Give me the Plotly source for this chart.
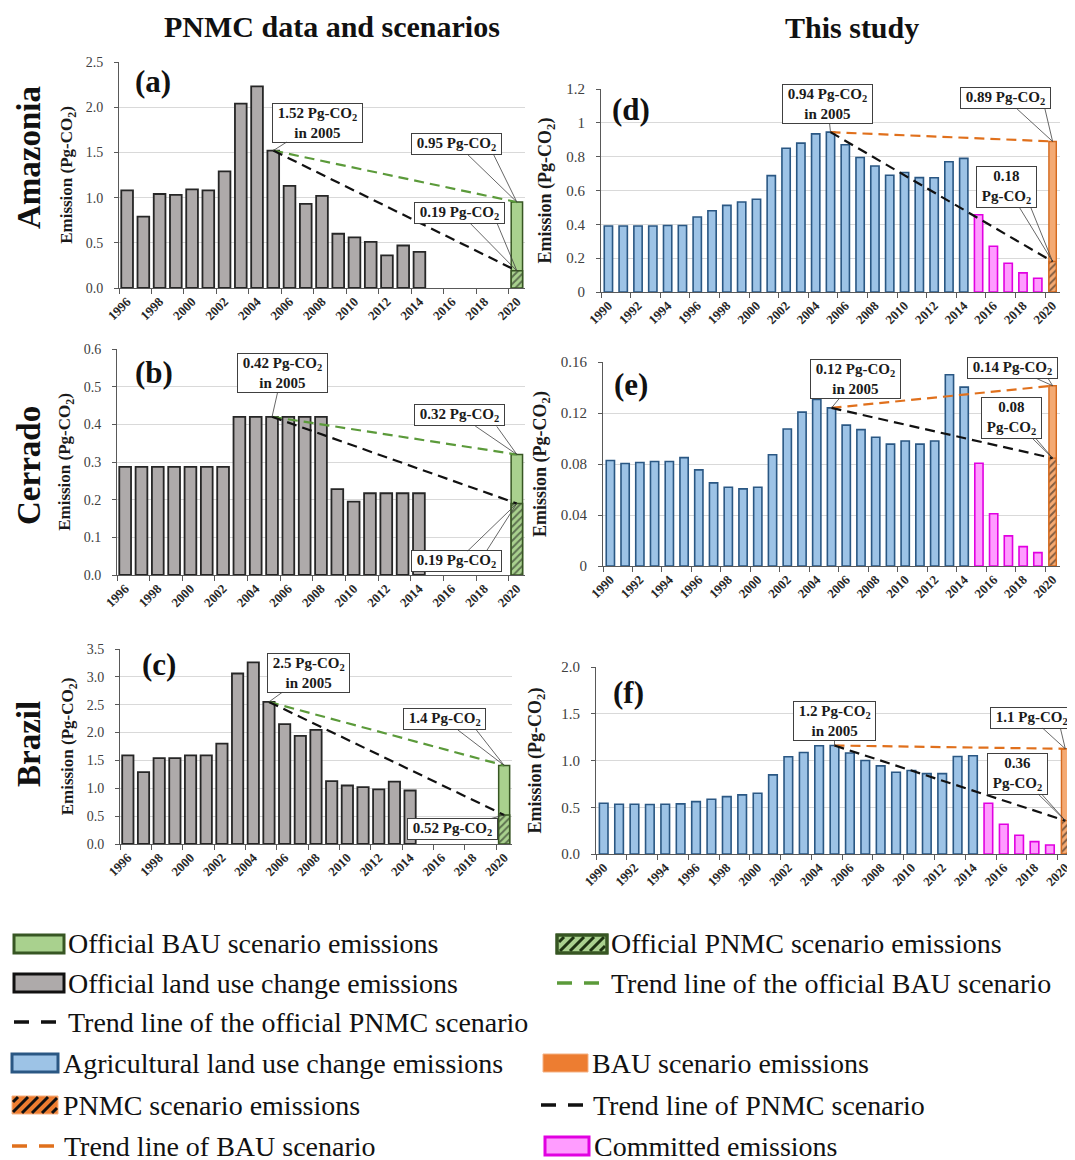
import plotly.graph_objects as go

# ---------------- data ----------------
YEARS_OFFICIAL = [1996, 1997, 1998, 1999, 2000, 2001, 2002, 2003, 2004, 2005,
                  2006, 2007, 2008, 2009, 2010, 2011, 2012, 2013, 2014]
AMAZONIA_OFFICIAL = [1.08, 0.79, 1.04, 1.03, 1.09, 1.08, 1.29, 2.04, 2.23, 1.52,
                     1.13, 0.93, 1.02, 0.60, 0.56, 0.51, 0.36, 0.47, 0.40]
CERRADO_OFFICIAL = [0.287, 0.287, 0.287, 0.287, 0.287, 0.287, 0.287, 0.42, 0.42, 0.42,
                    0.42, 0.42, 0.42, 0.228, 0.195, 0.217, 0.217, 0.217, 0.217]
BRAZIL_OFFICIAL = [1.59, 1.29, 1.54, 1.54, 1.59, 1.59, 1.80, 3.06, 3.26, 2.55,
                   2.15, 1.94, 2.05, 1.13, 1.05, 1.02, 0.98, 1.12, 0.96]
OFFICIAL_BAU_2020 = [0.95, 0.32, 1.41]      # Amazonia, Cerrado, Brazil
OFFICIAL_PNMC_2020 = [0.19, 0.19, 0.52]

YEARS_STUDY = [1990, 1991, 1992, 1993, 1994, 1995, 1996, 1997, 1998, 1999, 2000, 2001, 2002,
               2003, 2004, 2005, 2006, 2007, 2008, 2009, 2010, 2011, 2012, 2013, 2014]
AMAZONIA_STUDY = [0.39, 0.39, 0.39, 0.39, 0.393, 0.393, 0.443, 0.48, 0.512, 0.532, 0.548, 0.688, 0.85,
                  0.88, 0.935, 0.945, 0.87, 0.795, 0.745, 0.69, 0.706, 0.676, 0.675, 0.77, 0.79]
CERRADO_STUDY = [0.0827, 0.0804, 0.0812, 0.082, 0.082, 0.085, 0.0754, 0.0652, 0.0618, 0.0605, 0.0618,
                 0.0872, 0.1074, 0.1207, 0.1307, 0.124, 0.1105, 0.107, 0.101, 0.0956, 0.098, 0.0956,
                 0.098, 0.150, 0.1403]
BRAZIL_STUDY = [0.543, 0.532, 0.532, 0.529, 0.532, 0.536, 0.56, 0.586, 0.614, 0.632, 0.65, 0.846, 1.04,
                1.086, 1.157, 1.16, 1.08, 1.0, 0.943, 0.875, 0.893, 0.86, 0.86, 1.043, 1.05]
YEARS_COMMITTED = [2015, 2016, 2017, 2018, 2019]
AMAZONIA_COMMITTED = [0.457, 0.27, 0.17, 0.113, 0.081]
CERRADO_COMMITTED = [0.0806, 0.041, 0.0236, 0.0152, 0.0105]
BRAZIL_COMMITTED = [0.543, 0.318, 0.2, 0.132, 0.096]
STUDY_BAU_2020 = [0.89, 0.1414, 1.125]
STUDY_PNMC_2020 = [0.18, 0.0846, 0.357]

BASE_YEAR = 2005
TARGET_YEAR = 2020
TICKS_OFFICIAL = [1996, 1998, 2000, 2002, 2004, 2006, 2008, 2010, 2012, 2014, 2016, 2018, 2020]
TICKS_STUDY = [1990, 1992, 1994, 1996, 1998, 2000, 2002, 2004, 2006, 2008, 2010, 2012, 2014,
               2016, 2018, 2020]

REGIONS = ["Amazonia", "Cerrado", "Brazil"]
CO2 = "Pg-CO<sub>2</sub>"
OFFICIAL_LABELS = [["1.52 " + CO2 + "<br>in 2005", "0.95 " + CO2, "0.19 " + CO2],
                   ["0.42 " + CO2 + "<br>in 2005", "0.32 " + CO2, "0.19 " + CO2],
                   ["2.5 " + CO2 + "<br>in 2005", "1.4 " + CO2, "0.52 " + CO2]]
STUDY_LABELS = [["0.94 " + CO2 + "<br>in 2005", "0.89 " + CO2, "0.18<br>" + CO2],
                ["0.12 " + CO2 + "<br>in 2005", "0.14 " + CO2, "0.08<br>" + CO2],
                ["1.2 " + CO2 + "<br>in 2005", "1.1 " + CO2, "0.36<br>" + CO2]]

# ---------------- styling ----------------
W, H = 1075, 1160
PAGE_OFFSET = 8   # default page margin of the html body
FONT = "Liberation Serif"
GRAY_FILL, GRAY_LINE = "#aeaaaa", "#262626"
GREEN_FILL, GREEN_LINE = "#a9d18e", "#375623"
GREEN_TREND = "#5b9a3a"
BLUE_FILL, BLUE_LINE = "#9dc3e6", "#2a5783"
MAG_FILL, MAG_LINE = "#ff9cff", "#e100e1"
ORANGE_FILL, ORANGE_LINE = "#f4aa73", "#d46a1f"
ORANGE_TREND = "#e0701c"
ORANGE_LEGEND = "#ed7d31"


def pxx(p):
    return (p - PAGE_OFFSET) / W


def pxy(p):
    return 1 - (p - PAGE_OFFSET) / H


PANELS = [
    dict(n=1, col=0, row=0, x=(119, 525), y=(62, 288), rng=2.5, dtick=0.5, fmt=".1f",
         letter="(a)", lpos=(153, 82),
         offs=[(44, -28, None), (-60, -58, (-24, -49)), (-57, -58, (-20, -48))]),
    dict(n=2, col=0, row=1, x=(117, 525), y=(349, 575), rng=0.6, dtick=0.1, fmt=".1f",
         letter="(b)", lpos=(154, 372),
         offs=[(10, -44, None), (-57, -39, (-20, -28)), (-60, 58, (-30, 47))]),
    dict(n=3, col=0, row=2, x=(120, 512), y=(649, 844), rng=3.5, dtick=0.5, fmt=".1f",
         letter="(c)", lpos=(159, 664),
         offs=[(40, -29, None), (-60, -46, (-29, -37)), (-52, 14, None)]),
    dict(n=4, col=1, row=0, x=(601, 1060), y=(89, 292), rng=1.2, dtick=0.2, fmt="",
         letter="(d)", lpos=(631, 109),
         offs=[(-3, -28, None), (-47, -43, (-8, -34)), (-46, -75, (-23, -57))]),
    dict(n=5, col=1, row=1, x=(603, 1060), y=(362, 566), rng=0.16, dtick=0.04, fmt="",
         letter="(e)", lpos=(631, 384),
         offs=[(24, -29, None), (-40, -18, (-5, -8)), (-41, -40, (-18, -21))]),
    dict(n=6, col=1, row=2, x=(596, 1073), y=(667, 854), rng=2.0, dtick=0.5, fmt=".1f",
         letter="(f)", lpos=(628, 692),
         offs=[(0, -25, None), (-34, -31, (-5, -21)), (-48, -47, (-25, -28))]),
]

OFFICIAL_SERIES = [AMAZONIA_OFFICIAL, CERRADO_OFFICIAL, BRAZIL_OFFICIAL]
STUDY_SERIES = [AMAZONIA_STUDY, CERRADO_STUDY, BRAZIL_STUDY]
COMMITTED_SERIES = [AMAZONIA_COMMITTED, CERRADO_COMMITTED, BRAZIL_COMMITTED]

fig = go.Figure()
annotations = []
shapes = []
TREND_DASH = "10px,6px"

for p in PANELS:
    n, r = p["n"], p["row"]
    xa = "x" if n == 1 else f"x{n}"
    ya = "y" if n == 1 else f"y{n}"
    if p["col"] == 0:
        years, vals = YEARS_OFFICIAL, OFFICIAL_SERIES[r]
        bau, pnmc = OFFICIAL_BAU_2020[r], OFFICIAL_PNMC_2020[r]
        fig.add_trace(go.Bar(x=years, y=vals, width=0.72, xaxis=xa, yaxis=ya,
                             marker=dict(color=GRAY_FILL, line=dict(color=GRAY_LINE, width=1.8))))
        fig.add_trace(go.Bar(x=[TARGET_YEAR], y=[bau], width=0.7, xaxis=xa, yaxis=ya,
                             marker=dict(color=GREEN_FILL, line=dict(color=GREEN_LINE, width=1.5))))
        fig.add_trace(go.Bar(x=[TARGET_YEAR], y=[pnmc], width=0.7, xaxis=xa, yaxis=ya,
                             marker=dict(color=GREEN_FILL, line=dict(color=GREEN_LINE, width=1.5),
                                         pattern=dict(shape="/", fgcolor="#111111", bgcolor=GREEN_FILL,
                                                      size=5, solidity=0.4))))
        base_val = vals[years.index(BASE_YEAR)]
        fig.add_trace(go.Scatter(x=[BASE_YEAR, TARGET_YEAR], y=[base_val, bau], mode="lines",
                                 xaxis=xa, yaxis=ya,
                                 line=dict(color=GREEN_TREND, width=2.2, dash=TREND_DASH)))
        fig.add_trace(go.Scatter(x=[BASE_YEAR, TARGET_YEAR], y=[base_val, pnmc], mode="lines",
                                 xaxis=xa, yaxis=ya,
                                 line=dict(color="#111111", width=2.2, dash=TREND_DASH)))
        labels = OFFICIAL_LABELS[r]
        xr = [1995.5, 2020.5]
        ticks = TICKS_OFFICIAL
        minor0 = 1995.5
        tickfs, titlefs, yfs = 13, 17, 14
        standoff = 8
    else:
        years, vals = YEARS_STUDY, STUDY_SERIES[r]
        bau, pnmc = STUDY_BAU_2020[r], STUDY_PNMC_2020[r]
        fig.add_trace(go.Bar(x=years, y=vals, width=0.56, xaxis=xa, yaxis=ya,
                             marker=dict(color=BLUE_FILL, line=dict(color=BLUE_LINE, width=1.6))))
        fig.add_trace(go.Bar(x=YEARS_COMMITTED, y=COMMITTED_SERIES[r], width=0.56, xaxis=xa, yaxis=ya,
                             marker=dict(color=MAG_FILL, line=dict(color=MAG_LINE, width=1.6))))
        fig.add_trace(go.Bar(x=[TARGET_YEAR], y=[bau], width=0.5, xaxis=xa, yaxis=ya,
                             marker=dict(color=ORANGE_FILL, line=dict(color=ORANGE_LINE, width=1.4))))
        fig.add_trace(go.Bar(x=[TARGET_YEAR], y=[pnmc], width=0.5, xaxis=xa, yaxis=ya,
                             marker=dict(color=ORANGE_FILL, line=dict(color=ORANGE_LINE, width=1.4),
                                         pattern=dict(shape="/", fgcolor="#111111", bgcolor=ORANGE_FILL,
                                                      size=5, solidity=0.4))))
        base_val = vals[years.index(BASE_YEAR)]
        fig.add_trace(go.Scatter(x=[BASE_YEAR, TARGET_YEAR], y=[base_val, bau], mode="lines",
                                 xaxis=xa, yaxis=ya,
                                 line=dict(color=ORANGE_TREND, width=2.2, dash=TREND_DASH)))
        fig.add_trace(go.Scatter(x=[BASE_YEAR, TARGET_YEAR], y=[base_val, pnmc], mode="lines",
                                 xaxis=xa, yaxis=ya,
                                 line=dict(color="#111111", width=2.2, dash=TREND_DASH)))
        labels = STUDY_LABELS[r]
        xr = [1989.5, 2020.5]
        ticks = TICKS_STUDY
        minor0 = 1989.5
        tickfs, titlefs, yfs = 13, 18, 15
        standoff = 9 if n != 6 else 14

    xkey = "xaxis" if n == 1 else f"xaxis{n}"
    ykey = "yaxis" if n == 1 else f"yaxis{n}"
    fig.layout[xkey] = dict(
        domain=[pxx(p["x"][0]), pxx(p["x"][1])], anchor=ya, range=xr, automargin=False,
        tickmode="array", tickvals=ticks, ticktext=[str(t) for t in ticks],
        tickangle=-45, ticks="", showline=True, linecolor="#595959", linewidth=1,
        showgrid=False, zeroline=False,
        tickfont=dict(family=FONT, size=tickfs, color="#262626", weight="bold"),
        minor=dict(tick0=minor0, dtick=2, ticks="outside", ticklen=5, tickcolor="#595959",
                   showgrid=False),
    )
    fig.layout[ykey] = dict(
        domain=[pxy(p["y"][1]), pxy(p["y"][0])], anchor=xa, range=[0, p["rng"]], automargin=False,
        dtick=p["dtick"], tick0=0, tickformat=p["fmt"], ticks="outside", ticklen=4,
        ticklabelstandoff=8,
        tickcolor="#595959", showline=True, linecolor="#595959", linewidth=1,
        showgrid=True, gridcolor="#d9d9d9", gridwidth=1, zeroline=False,
        tickfont=dict(family=FONT, size=yfs, color="#404040"),
        title=dict(text="Emission (Pg-CO<sub>2</sub>)", standoff=standoff,
                   font=dict(family=FONT, size=titlefs, color="#1a1a1a", weight="bold")),
    )

    # callouts: text boxes with leader lines
    targets = [(BASE_YEAR, base_val), (TARGET_YEAR, bau), (TARGET_YEAR, pnmc)]
    for (tx, ty), lab, (ox, oy, extra) in zip(targets, labels, p["offs"]):
        annotations.append(dict(
            x=tx, y=ty, xref=xa, yref=ya, ax=ox, ay=oy, axref="pixel", ayref="pixel",
            text="<b>&nbsp;" + lab.replace("<br>", "&nbsp;<br>&nbsp;") + "&nbsp;</b>",
            showarrow=True, arrowhead=0, arrowwidth=0.8,
            arrowcolor="#404040", bgcolor="white", bordercolor="#404040", borderwidth=1,
            borderpad=1, font=dict(family=FONT, size=15, color="#1a1a1a"), standoff=0))
        if extra is not None:
            shapes.append(dict(
                type="line", xref=xa, yref=ya, xsizemode="pixel", ysizemode="pixel",
                xanchor=tx, yanchor=ty, x0=0, y0=0, x1=extra[0], y1=-extra[1],
                line=dict(color="#404040", width=0.8)))

    annotations.append(dict(x=pxx(p["lpos"][0]), y=pxy(p["lpos"][1]), xref="paper", yref="paper",
                            xanchor="center", yanchor="middle",
                            text="<b>" + p["letter"] + "</b>", showarrow=False,
                            font=dict(family=FONT, size=31, color="#111111")))

# row and column titles
for name, yc in zip(REGIONS, [158, 466, 744]):
    annotations.append(dict(x=pxx(29), y=pxy(yc), xref="paper", yref="paper", text="<b>" + name + "</b>",
                            xanchor="center", yanchor="middle",
                            textangle=-90, showarrow=False, font=dict(family=FONT, size=33, color="#111111")))
annotations.append(dict(x=pxx(332), y=pxy(8), xref="paper", yref="paper",
                        xanchor="center", yanchor="top",
                        text="<b>PNMC data and scenarios</b>", showarrow=False,
                        font=dict(family=FONT, size=30, color="#111111")))
annotations.append(dict(x=pxx(852), y=pxy(9), xref="paper", yref="paper",
                        xanchor="center", yanchor="top",
                        text="<b>This study</b>", showarrow=False,
                        font=dict(family=FONT, size=30, color="#111111")))


# ---------------- custom legend ----------------
def rect(x0, x1, yc, fill, line, lw, hh=9):
    shapes.append(dict(type="rect", xref="paper", yref="paper", x0=pxx(x0), x1=pxx(x1),
                       y0=pxy(yc + hh), y1=pxy(yc - hh), fillcolor=fill,
                       line=dict(color=line, width=lw)))


def hatch(x0, x1, yc, color, hh=9, spacing=10, lw=3):
    y0, y1 = yc - hh, yc + hh
    h = y1 - y0
    c = x0 - h + spacing / 2
    while c < x1:
        sx, sy = c, y1
        ex, ey = c + h, y0
        if sx < x0:
            sy = y1 - (x0 - sx)
            sx = x0
        if ex > x1:
            ey = y0 + (ex - x1)
            ex = x1
        if ex > sx:
            shapes.append(dict(type="line", xref="paper", yref="paper", x0=pxx(sx), y0=pxy(sy),
                               x1=pxx(ex), y1=pxy(ey), line=dict(color=color, width=lw)))
        c += spacing


def dash(x0, x1, yc, color):
    shapes.append(dict(type="line", xref="paper", yref="paper", x0=pxx(x0), x1=pxx(x1),
                       y0=pxy(yc), y1=pxy(yc), line=dict(color=color, width=3.5, dash="15px,12px")))


def ltext(x, yc, txt):
    annotations.append(dict(x=pxx(x), y=pxy(yc), xref="paper", yref="paper", text=txt,
                            xanchor="left", yanchor="middle", showarrow=False,
                            font=dict(family=FONT, size=28, color="#111111")))


R = [944, 983, 1022, 1063, 1105, 1146]
rect(14, 64, R[0], GREEN_FILL, GREEN_LINE, 3)
ltext(66, R[0], "Official BAU scenario emissions")
rect(557, 607, R[0], GREEN_FILL, GREEN_LINE, 3)
hatch(559, 605, R[0], "#1e3312", hh=7)
shapes.append(dict(type="rect", xref="paper", yref="paper", x0=pxx(557), x1=pxx(607),
                   y0=pxy(R[0] + 9), y1=pxy(R[0] - 9), line=dict(color=GREEN_LINE, width=3)))
ltext(609, R[0], "Official PNMC scenario emissions")
rect(14, 64, R[1], GRAY_FILL, "#111111", 3)
ltext(66, R[1], "Official land use change emissions")
dash(557, 600, R[1], GREEN_TREND)
ltext(609, R[1], "Trend line of the official BAU scenario")
dash(14, 58, R[2], "#111111")
ltext(66, R[2], "Trend line of the official PNMC scenario")
rect(12, 58, R[3], BLUE_FILL, BLUE_LINE, 3)
ltext(61, R[3], "Agricultural land use change emissions")
rect(543, 588, R[3], ORANGE_LEGEND, "#f4b183", 1)
ltext(590, R[3], "BAU scenario emissions")
rect(12, 58, R[4], ORANGE_LEGEND, "#f4b183", 1)
hatch(13, 57, R[4], "#111111", hh=8)
ltext(61, R[4], "PNMC scenario emissions")
dash(541, 583, R[4], "#111111")
ltext(591, R[4], "Trend line of PNMC scenario")
dash(12, 55, R[5], ORANGE_TREND)
ltext(62, R[5], "Trend line of BAU scenario")
rect(545, 589, R[5], MAG_FILL, MAG_LINE, 3)
ltext(592, R[5], "Committed emissions")

fig.update_layout(
    width=W, height=H, margin=dict(l=0, r=0, t=0, b=0, autoexpand=False),
    paper_bgcolor="white", plot_bgcolor="white",
    barmode="overlay", showlegend=False,
    annotations=annotations, shapes=shapes,
    font=dict(family=FONT),
)

fig.write_html("out.html")
